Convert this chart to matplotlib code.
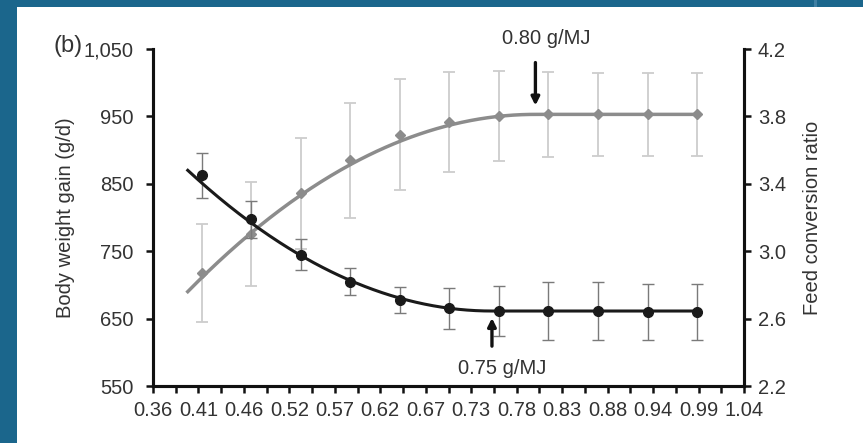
import numpy as np
import matplotlib.pyplot as plt
from matplotlib.patches import Rectangle
from matplotlib.ticker import FuncFormatter

plt.rcParams['font.family'] = ['Liberation Sans', 'DejaVu Sans']

# Dietary level (g/MJ)
dose = [0.416, 0.473, 0.530, 0.587, 0.644, 0.701, 0.758, 0.815, 0.872, 0.929, 0.986]

# Body weight gain (g/d), mean and SD
bwg = [718, 775, 836, 885, 923, 942, 951, 953, 953, 953, 953]
bwg_sd = [73, 77, 82, 85, 82, 74, 67, 63, 62, 62, 62]

# Feed conversion ratio, mean and SD
fcr = [3.45, 3.19, 2.98, 2.82, 2.71, 2.66, 2.645, 2.645, 2.645, 2.64, 2.64]
fcr_sd = [0.135, 0.11, 0.09, 0.08, 0.077, 0.12, 0.15, 0.17, 0.17, 0.165, 0.165]

# Quadratic-plateau fits: (start x, start y, breakpoint, plateau)
bwg_fit = (0.40, 690, 0.80, 953)
fcr_fit = (0.40, 3.48, 0.75, 2.645)

x_ticks = np.linspace(0.36, 1.04, 14)


def qp_curve(params, x_end):
    x0, y0, bp, plateau = params
    x = np.linspace(x0, x_end, 300)
    k = (y0 - plateau) / (bp - x0) ** 2
    y = np.where(x < bp, plateau + k * (x - bp) ** 2, plateau)
    return x, y


txt = '#333333'
fs = 14.5
fig = plt.figure(figsize=(8.63, 4.43), dpi=100)
fig.patch.set_facecolor('#1b668c')
fig.patches.append(Rectangle((17 / 863, 0), 1, 1 - 7 / 443, transform=fig.transFigure,
                             facecolor='white', edgecolor='none', zorder=-10))
fig.patches.append(Rectangle((814 / 863, 1 - 7 / 443), 3 / 863, 7 / 443, transform=fig.transFigure,
                             facecolor='#3f7fa3', edgecolor='none', zorder=-10))

ax = fig.add_axes([153 / 863, 1 - 386 / 443, 591 / 863, 337 / 443])
ax.set_facecolor('none')
ax2 = ax.twinx()

# body weight gain (grey)
ax.errorbar(dose, bwg, yerr=bwg_sd, fmt='none', ecolor='#cdcdcd', elinewidth=1.3,
            capsize=4, capthick=1.3, zorder=1)
xf, yf = qp_curve(bwg_fit, dose[-1])
ax.plot(xf, yf, color='#8c8c8c', lw=2.5, zorder=2)
ax.plot(dose, bwg, 'D', color='#8c8c8c', ms=5, zorder=3)

# feed conversion ratio (black)
ax2.errorbar(dose, fcr, yerr=fcr_sd, fmt='none', ecolor='#7a7a7a', elinewidth=1.0,
             capsize=4, capthick=1.0, zorder=1)
xf, yf = qp_curve(fcr_fit, dose[-1])
ax2.plot(xf, yf, color='#1a1a1a', lw=2.2, zorder=2)
ax2.plot(dose, fcr, 'o', color='#1a1a1a', ms=7, zorder=3)

ax.set_xlim(0.36, 1.04)
ax.set_ylim(550, 1050)
ax2.set_ylim(2.2, 4.2)

ax.set_xticks(x_ticks)
ax.set_xticklabels([f'{v:.2f}' for v in x_ticks])
ax.set_xticks((x_ticks[:-1] + x_ticks[1:]) / 2, minor=True)
ax.set_yticks([550, 650, 750, 850, 950, 1050])
ax.yaxis.set_major_formatter(FuncFormatter(lambda v, p: f'{v:,.0f}'))
ax2.set_yticks([2.2, 2.6, 3.0, 3.4, 3.8, 4.2])
ax2.yaxis.set_major_formatter(FuncFormatter(lambda v, p: f'{v:.1f}'))

for a in (ax, ax2):
    a.spines['top'].set_visible(False)
    for s in ('left', 'right', 'bottom'):
        a.spines[s].set_linewidth(2.2)
        a.spines[s].set_color('#111111')

ax.tick_params(axis='both', which='both', direction='out', length=5, width=1.8,
               color='#111111', labelsize=fs, labelcolor=txt)
ax.tick_params(axis='x', pad=6)
ax.tick_params(axis='y', pad=9)
ax2.tick_params(axis='y', direction='out', length=5, width=1.8, color='#111111',
                labelsize=fs, labelcolor=txt, pad=5)

ax.set_ylabel('Body weight gain (g/d)', fontsize=14.5, color=txt, labelpad=6)
ax2.set_ylabel('Feed conversion ratio', fontsize=14.5, color=txt, labelpad=12)

fig.text(53 / 863, 1 - 46 / 443, '(b)', fontsize=17, color=txt, va='center', ha='left')

# breakpoint arrows
ax.annotate('', xy=(0.80, 962), xytext=(0.80, 1034),
            arrowprops=dict(arrowstyle='-|>', color='#111111', lw=2.4, mutation_scale=12),
            annotation_clip=False)
ax.text(0.812, 1066, '0.80 g/MJ', fontsize=fs, color=txt, ha='center', va='center',
        clip_on=False)
ax2.annotate('', xy=(0.75, 2.62), xytext=(0.75, 2.42),
             arrowprops=dict(arrowstyle='-|>', color='#111111', lw=2.4, mutation_scale=12))
ax2.text(0.762, 2.305, '0.75 g/MJ', fontsize=fs, color=txt, ha='center', va='center')

fig.savefig('out.png', dpi=100)
